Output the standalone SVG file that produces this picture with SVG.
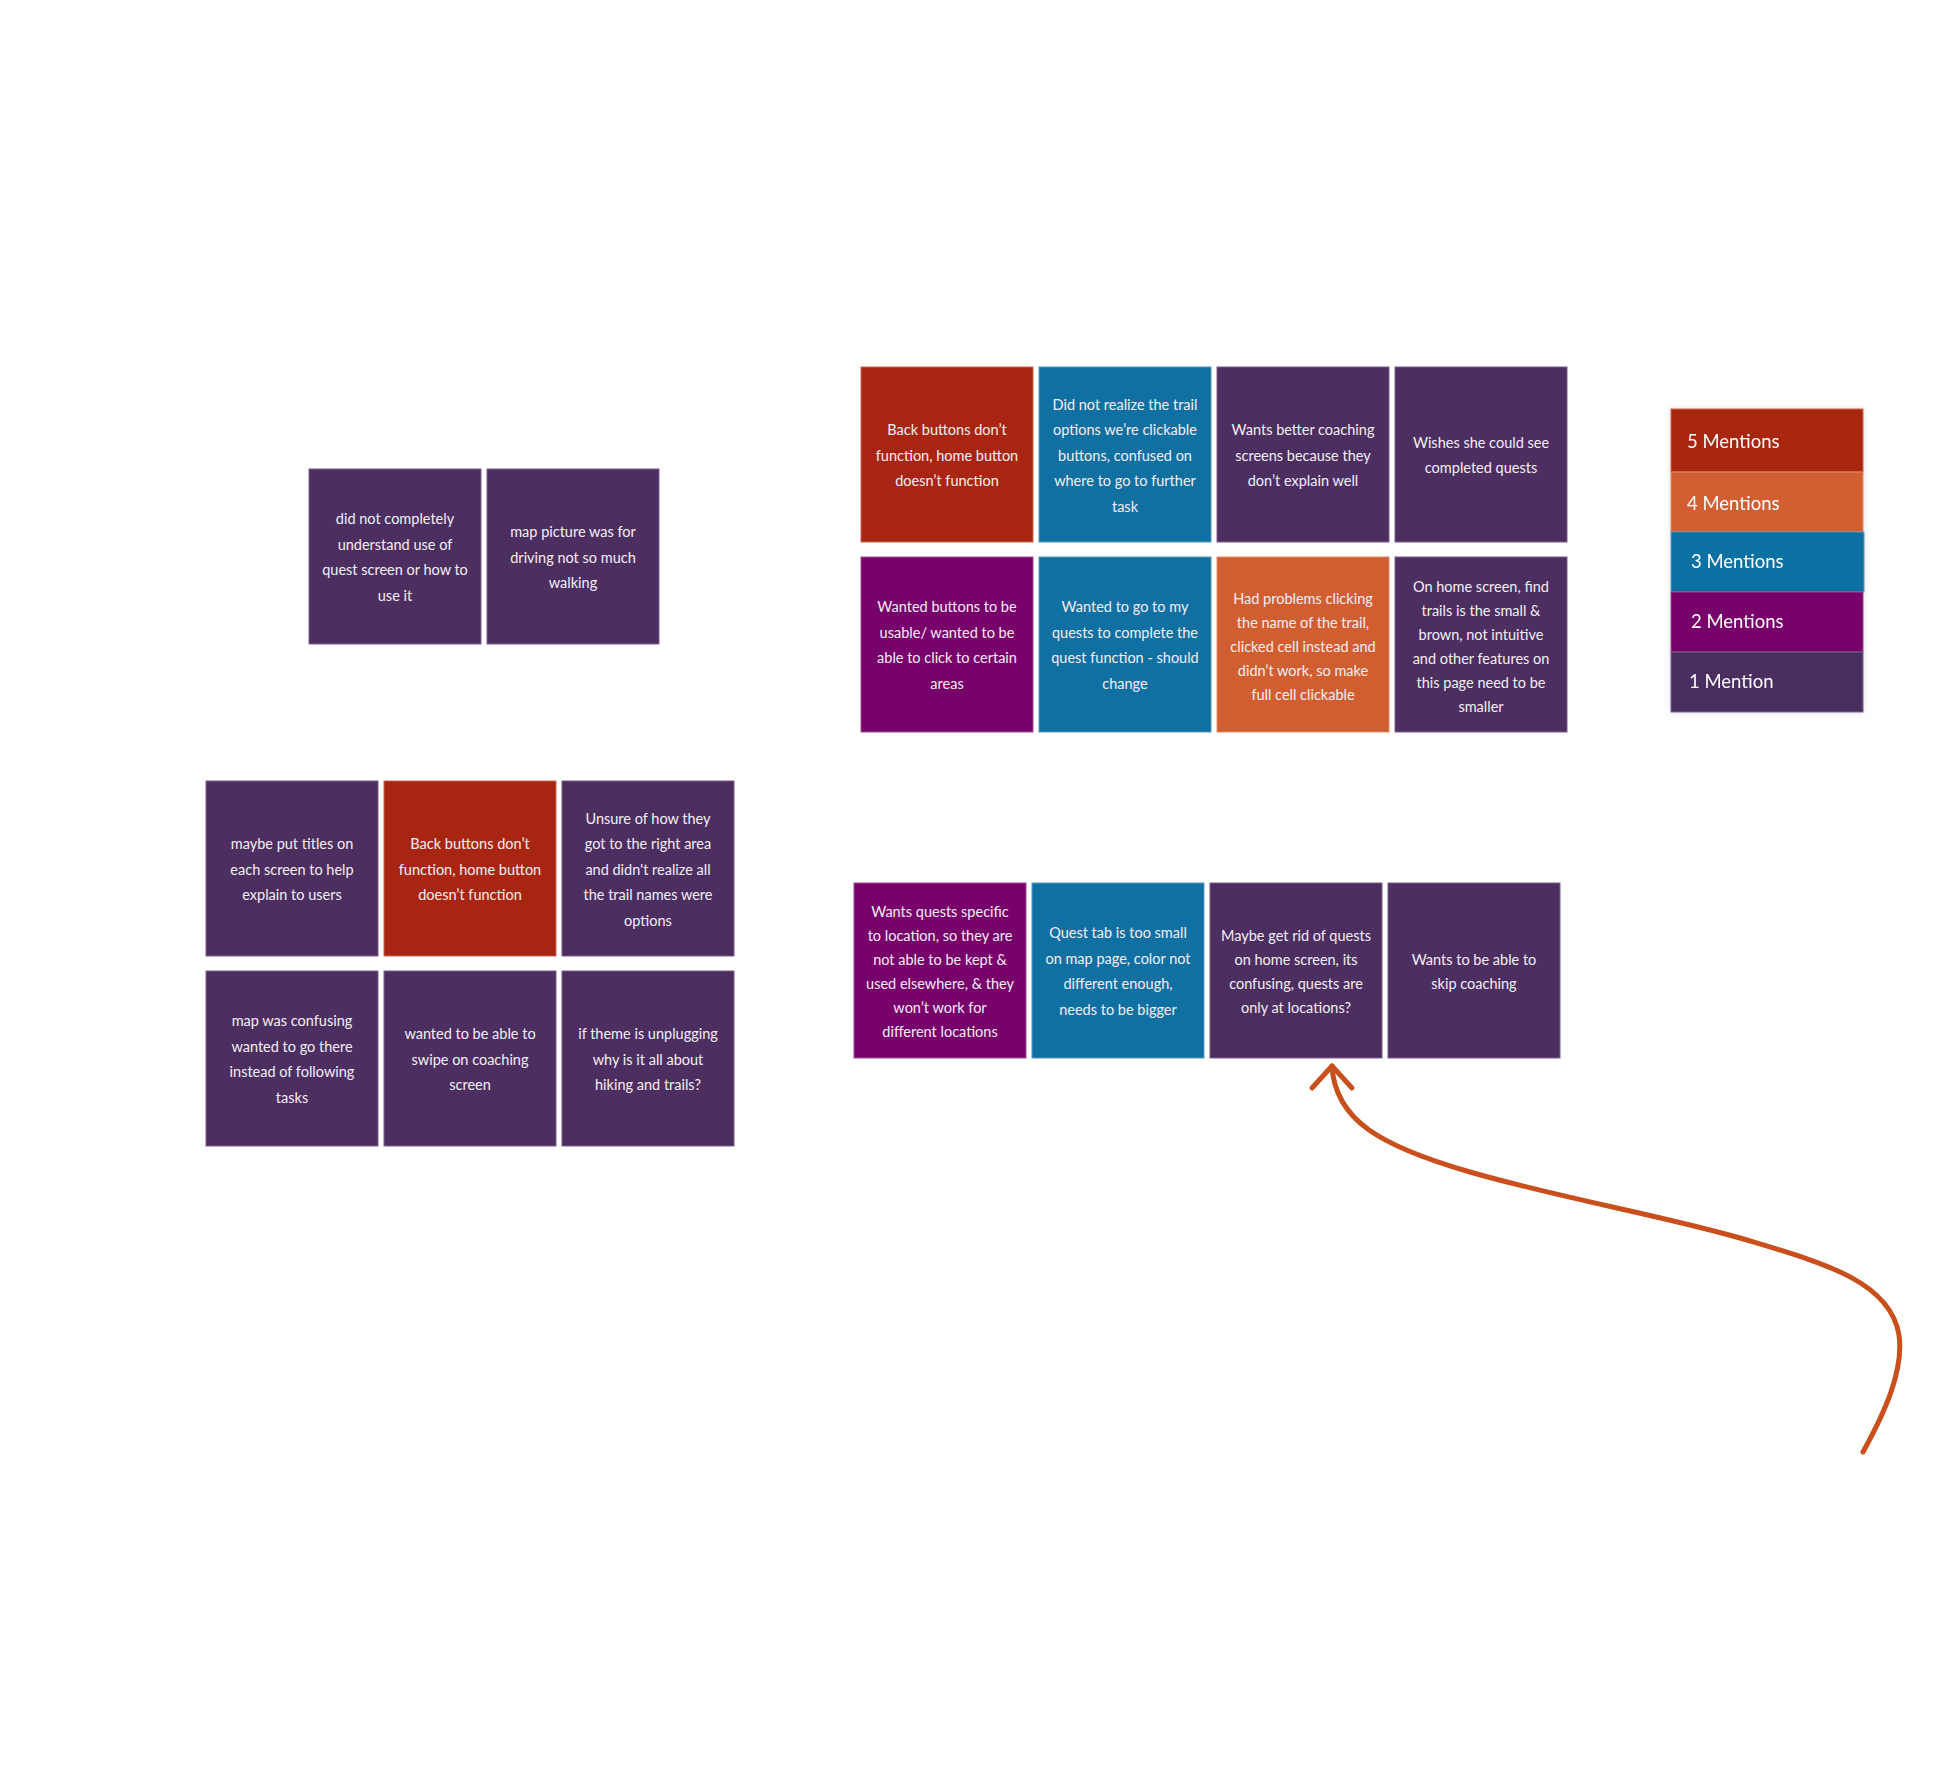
<svg xmlns="http://www.w3.org/2000/svg" width="1938" height="1769" viewBox="0 0 1938 1769">
<defs>
<style>
.card{stroke-width:1}
.p1{fill:#4c2e61;stroke:#7a5f8e}
.p2{fill:#78006a;stroke:#9a4a8e}
.p3{fill:#1170a2;stroke:#5a95bd}
.p4{fill:#d15e30;stroke:#e08b68}
.p5{fill:#a82611;stroke:#c9654f}
.t{font-family:Lato,"Open Sans","Liberation Sans",sans-serif;font-size:14.5px;fill:#f4eef4;text-anchor:middle;dominant-baseline:central}
.lg{font-family:Lato,"Open Sans","Liberation Sans",sans-serif;font-size:18.5px;fill:#ffffff;dominant-baseline:central}
.arrow{fill:none;stroke:#c94f1c;stroke-width:5;stroke-linecap:round;stroke-linejoin:round}
</style>
<filter id="sh" x="-10%" y="-10%" width="120%" height="120%">
<feDropShadow dx="0" dy="0" stdDeviation="3" flood-color="#000" flood-opacity="0.12"/>
</filter>
</defs>
<rect width="1938" height="1769" fill="#ffffff"/>

<g id="group-a">
<g id="a1"><rect class="card p1" x="309" y="469" width="172" height="175"/>
<text class="t"><tspan x="395" y="518.25">did not completely</tspan><tspan x="395" y="543.75">understand use of</tspan><tspan x="395" y="569.25">quest screen or how to</tspan><tspan x="395" y="594.75">use it</tspan></text></g>
<g id="a2"><rect class="card p1" x="487" y="469" width="172" height="175"/>
<text class="t"><tspan x="573" y="531">map picture was for</tspan><tspan x="573" y="556.5">driving not so much</tspan><tspan x="573" y="582">walking</tspan></text></g>
</g>

<g id="group-b">
<g id="b1"><rect class="card p1" x="206" y="781" width="172" height="175"/>
<text class="t"><tspan x="292" y="843">maybe put titles on</tspan><tspan x="292" y="868.5">each screen to help</tspan><tspan x="292" y="894">explain to users</tspan></text></g>
<g id="b2"><rect class="card p5" x="384" y="781" width="172" height="175"/>
<text class="t"><tspan x="470" y="843">Back buttons don’t</tspan><tspan x="470" y="868.5">function, home button</tspan><tspan x="470" y="894">doesn’t function</tspan></text></g>
<g id="b3"><rect class="card p1" x="562" y="781" width="172" height="175"/>
<text class="t"><tspan x="648" y="817.5">Unsure of how they</tspan><tspan x="648" y="843">got to the right area</tspan><tspan x="648" y="868.5">and didn't realize all</tspan><tspan x="648" y="894">the trail names were</tspan><tspan x="648" y="919.5">options</tspan></text></g>
<g id="b4"><rect class="card p1" x="206" y="971" width="172" height="175"/>
<text class="t"><tspan x="292" y="1020.25">map was confusing</tspan><tspan x="292" y="1045.75">wanted to go there</tspan><tspan x="292" y="1071.25">instead of following</tspan><tspan x="292" y="1096.75">tasks</tspan></text></g>
<g id="b5"><rect class="card p1" x="384" y="971" width="172" height="175"/>
<text class="t"><tspan x="470" y="1033">wanted to be able to</tspan><tspan x="470" y="1058.5">swipe on coaching</tspan><tspan x="470" y="1084">screen</tspan></text></g>
<g id="b6"><rect class="card p1" x="562" y="971" width="172" height="175"/>
<text class="t"><tspan x="648" y="1033">if theme is unplugging</tspan><tspan x="648" y="1058.5">why is it all about</tspan><tspan x="648" y="1084">hiking and trails?</tspan></text></g>
</g>

<g id="group-c">
<g id="c1"><rect class="card p5" x="861" y="367" width="172" height="175"/>
<text class="t"><tspan x="947" y="429">Back buttons don’t</tspan><tspan x="947" y="454.5">function, home button</tspan><tspan x="947" y="480">doesn’t function</tspan></text></g>
<g id="c2"><rect class="card p3" x="1039" y="367" width="172" height="175"/>
<text class="t"><tspan x="1125" y="403.5">Did not realize the trail</tspan><tspan x="1125" y="429">options we’re clickable</tspan><tspan x="1125" y="454.5">buttons, confused on</tspan><tspan x="1125" y="480">where to go to further</tspan><tspan x="1125" y="505.5">task</tspan></text></g>
<g id="c3"><rect class="card p1" x="1217" y="367" width="172" height="175"/>
<text class="t"><tspan x="1303" y="429">Wants better coaching</tspan><tspan x="1303" y="454.5">screens because they</tspan><tspan x="1303" y="480">don’t explain well</tspan></text></g>
<g id="c4"><rect class="card p1" x="1395" y="367" width="172" height="175"/>
<text class="t"><tspan x="1481" y="441.75">Wishes she could see</tspan><tspan x="1481" y="467.25">completed quests</tspan></text></g>
<g id="c5"><rect class="card p2" x="861" y="557" width="172" height="175"/>
<text class="t"><tspan x="947" y="606.25">Wanted buttons to be</tspan><tspan x="947" y="631.75">usable/ wanted to be</tspan><tspan x="947" y="657.25">able to click to certain</tspan><tspan x="947" y="682.75">areas</tspan></text></g>
<g id="c6"><rect class="card p3" x="1039" y="557" width="172" height="175"/>
<text class="t"><tspan x="1125" y="606.25">Wanted to go to my</tspan><tspan x="1125" y="631.75">quests to complete the</tspan><tspan x="1125" y="657.25">quest function - should</tspan><tspan x="1125" y="682.75">change</tspan></text></g>
<g id="c7"><rect class="card p4" x="1217" y="557" width="172" height="175"/>
<text class="t"><tspan x="1303" y="597.5">Had problems clicking</tspan><tspan x="1303" y="621.5">the name of the trail,</tspan><tspan x="1303" y="645.5">clicked cell instead and</tspan><tspan x="1303" y="669.5">didn’t work, so make</tspan><tspan x="1303" y="693.5">full cell clickable</tspan></text></g>
<g id="c8"><rect class="card p1" x="1395" y="557" width="172" height="175"/>
<text class="t"><tspan x="1481" y="585.5">On home screen, find</tspan><tspan x="1481" y="609.5">trails is the small &amp;</tspan><tspan x="1481" y="633.5">brown, not intuitive</tspan><tspan x="1481" y="657.5">and other features on</tspan><tspan x="1481" y="681.5">this page need to be</tspan><tspan x="1481" y="705.5">smaller</tspan></text></g>
</g>

<g id="group-d">
<g id="d1"><rect class="card p2" x="854" y="883" width="172" height="175"/>
<text class="t"><tspan x="940" y="910.5">Wants quests specific</tspan><tspan x="940" y="934.5">to location, so they are</tspan><tspan x="940" y="958.5">not able to be kept &amp;</tspan><tspan x="940" y="982.5">used elsewhere, &amp; they</tspan><tspan x="940" y="1006.5">won’t work for</tspan><tspan x="940" y="1030.5">different locations</tspan></text></g>
<g id="d2"><rect class="card p3" x="1032" y="883" width="172" height="175"/>
<text class="t"><tspan x="1118" y="932.25">Quest tab is too small</tspan><tspan x="1118" y="957.75">on map page, color not</tspan><tspan x="1118" y="983.25">different enough,</tspan><tspan x="1118" y="1008.75">needs to be bigger</tspan></text></g>
<g id="d3"><rect class="card p1" x="1210" y="883" width="172" height="175"/>
<text class="t"><tspan x="1296" y="934.5">Maybe get rid of quests</tspan><tspan x="1296" y="958.5">on home screen, its</tspan><tspan x="1296" y="982.5">confusing, quests are</tspan><tspan x="1296" y="1006.5">only at locations?</tspan></text></g>
<g id="d4"><rect class="card p1" x="1388" y="883" width="172" height="175"/>
<text class="t"><tspan x="1474" y="958.5">Wants to be able to</tspan><tspan x="1474" y="983">skip coaching</tspan></text></g>
</g>

<g id="legend" filter="url(#sh)">
<rect class="p5" x="1671" y="409" width="192" height="63"/>
<rect class="p4" x="1671" y="472" width="192" height="60"/>
<rect class="p3" x="1671" y="532" width="193" height="60"/>
<rect class="p2" x="1671" y="592" width="192" height="60"/>
<rect class="p1" x="1671" y="652" width="192" height="60"/>
<text class="lg" x="1687" y="441">5 Mentions</text>
<text class="lg" x="1687" y="503">4 Mentions</text>
<text class="lg" x="1691" y="561">3 Mentions</text>
<text class="lg" x="1691" y="621">2 Mentions</text>
<text class="lg" x="1689" y="681">1 Mention</text>
</g>

<g id="connectors">
<path class="arrow" d="M1863,1452 C1885,1412 1904,1370 1899,1335 C1890,1280 1820,1262 1740,1238 C1660,1215 1560,1198 1470,1172 C1380,1146 1335,1120 1332,1066"/>
<polyline class="arrow" points="1312,1088 1332,1066 1352,1088"/>
</g>
</svg>
